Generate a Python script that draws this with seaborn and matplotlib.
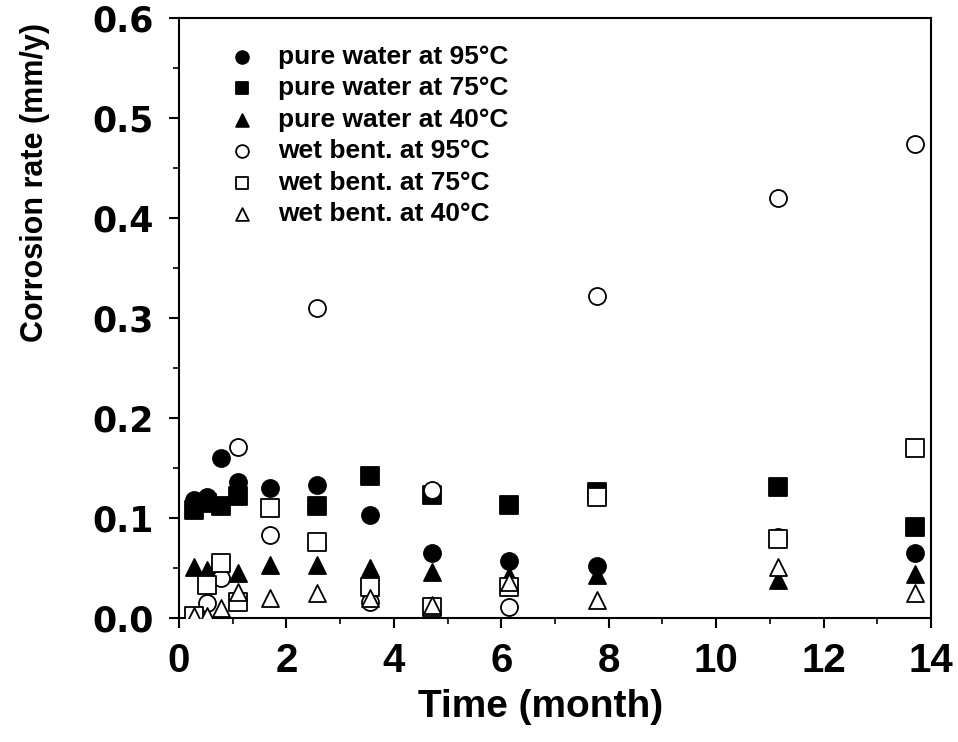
import numpy as np
import pandas as pd
import seaborn as sns
import matplotlib
matplotlib.use("Agg")
import matplotlib.pyplot as plt
from matplotlib import font_manager as fm
from matplotlib.ticker import MultipleLocator

# ---------------- data ----------------
time_month = [0.27, 0.52, 0.78, 1.1, 1.7, 2.56, 3.56, 4.71, 6.15, 7.78, 11.16, 13.7]

pure_95 = [0.118, 0.121, 0.160, 0.136, 0.130, 0.133, 0.103, 0.065, 0.057, 0.052, 0.081, 0.065]
pure_75 = [0.108, 0.115, 0.112, 0.122, np.nan, 0.112, 0.142, 0.123, 0.113, 0.126, 0.131, 0.091]
pure_40 = [0.051, 0.048, np.nan, 0.045, 0.053, 0.053, 0.050, 0.046, 0.042, 0.043, 0.038, 0.044]
wet_95 = [np.nan, 0.015, 0.040, 0.171, 0.083, 0.310, 0.016, 0.128, 0.011, 0.322, 0.420, 0.474]
wet_75 = [0.002, 0.033, 0.055, 0.016, 0.110, 0.076, 0.031, 0.011, 0.031, 0.121, 0.079, 0.170]
wet_40 = [0.002, 0.002, 0.010, 0.026, 0.020, 0.025, 0.020, 0.013, 0.036, 0.018, 0.051, 0.025]

series_labels = ["pure water at 95°C", "pure water at 75°C", "pure water at 40°C",
                 "wet bent. at 95°C", "wet bent. at 75°C", "wet bent. at 40°C"]
series_values = [pure_95, pure_75, pure_40, wet_95, wet_75, wet_40]
series_markers = ["o", "s", "^", "o", "s", "^"]
series_faces = ["black", "black", "black", "white", "white", "white"]

xticks = [0, 2, 4, 6, 8, 10, 12, 14]
xtick_labels = ["0", "2", "4", "6", "8", "10", "12", "14"]
yticks = [0.0, 0.1, 0.2, 0.3, 0.4, 0.5, 0.6]
ytick_labels = ["0.0", "0.1", "0.2", "0.3", "0.4", "0.5", "0.6"]

rows = []
for lab, vals in zip(series_labels, series_values):
    for t, v in zip(time_month, vals):
        if not np.isnan(v):
            rows.append({"series": lab, "time": t, "rate": v})
df = pd.DataFrame(rows)

# ---------------- style ----------------
sns.set_theme(style="ticks")
plt.rcParams["font.family"] = ["Liberation Sans", "DejaVu Sans"]
plt.rcParams["axes.linewidth"] = 1.5
for key in ["text.color", "axes.labelcolor", "xtick.color", "ytick.color",
            "axes.edgecolor", "xtick.labelcolor", "ytick.labelcolor"]:
    plt.rcParams[key] = "black"

available = {f.name for f in fm.fontManager.ttflist}
xfont = "Liberation Sans Narrow" if "Liberation Sans Narrow" in available else "Liberation Sans"
xsize = 31 if xfont == "Liberation Sans Narrow" else 29

fig = plt.figure(figsize=(9.58, 7.42), dpi=100)
ax = fig.add_axes([179 / 958, 1 - 618 / 742, 752 / 958, 600 / 742])

for i, (lab, mk, fc) in enumerate(zip(series_labels, series_markers, series_faces)):
    sub = df[df["series"] == lab]
    sns.scatterplot(data=sub, x="time", y="rate", marker=mk, color=fc,
                    edgecolor="black", linewidth=1.3, s=150, ax=ax,
                    label=lab, zorder=3 + i)

ax.set_xlim(0, 14)
ax.set_ylim(0, 0.6)
ax.set_xticks(xticks, labels=xtick_labels, fontsize=xsize, fontweight="bold",
              fontfamily=xfont, color="black")
ax.set_yticks(yticks, labels=ytick_labels, fontsize=25, fontweight="bold",
              fontfamily="DejaVu Sans", color="black")
ax.xaxis.set_minor_locator(MultipleLocator(1))
ax.yaxis.set_minor_locator(MultipleLocator(0.05))
ax.tick_params(which="major", direction="out", length=7, width=1.5, color="black")
ax.tick_params(which="minor", direction="out", length=4, width=1.2, color="black")
ax.tick_params(axis="x", which="major", pad=10)
ax.tick_params(axis="y", which="major", pad=11)

for sp in ax.spines.values():
    sp.set_visible(True)
    sp.set_color("black")
    sp.set_linewidth(1.5)

ax.set_xlabel("Time (month)", fontsize=28, fontweight="bold", color="black")
ax.set_ylabel("Corrosion rate (mm/y)", fontsize=22, fontweight="bold", color="black")
ax.xaxis.set_label_coords(0.481, -0.118)
ax.yaxis.set_label_coords(-0.172, 0.725)

leg = ax.legend(loc="upper left", bbox_to_anchor=(0.066, 0.955), frameon=False,
                prop={"size": 19, "weight": "bold", "family": "Liberation Sans"},
                handlelength=1.0, handletextpad=0.86, labelspacing=0.28,
                borderpad=0, borderaxespad=0, markerscale=0.75)
for txt in leg.get_texts():
    txt.set_color("black")

fig.savefig("out.png", dpi=100, facecolor="white")
